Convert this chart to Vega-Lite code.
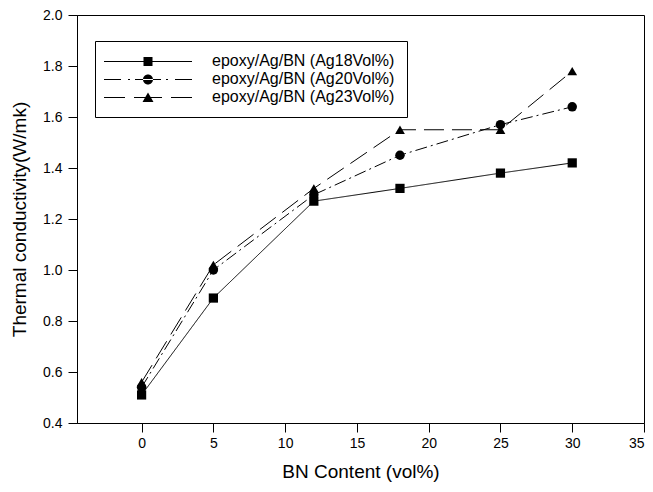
{
  "$schema": "https://vega.github.io/schema/vega-lite/v6.json",
  "width": 567,
  "height": 408,
  "autosize": "none",
  "padding": {"left": 77, "top": 15, "right": 9, "bottom": 69},
  "background": "white",
  "config": {
    "view": {"stroke": "black", "strokeWidth": 1},
    "font": "Liberation Sans",
    "axis": {
      "domainColor": "black",
      "tickColor": "black",
      "labelColor": "black",
      "titleColor": "black",
      "grid": false,
      "tickSize": 9,
      "labelFontSize": 14,
      "titleFontSize": 19,
      "titleFontWeight": "normal",
      "labelFont": "Liberation Sans",
      "titleFont": "Liberation Sans"
    }
  },
  "data": {
    "values": [
      {"series": "epoxy/Ag/BN (Ag18Vol%)", "bn": 0, "k": 0.51},
      {"series": "epoxy/Ag/BN (Ag18Vol%)", "bn": 5, "k": 0.89},
      {"series": "epoxy/Ag/BN (Ag18Vol%)", "bn": 12, "k": 1.27},
      {"series": "epoxy/Ag/BN (Ag18Vol%)", "bn": 18, "k": 1.32},
      {"series": "epoxy/Ag/BN (Ag18Vol%)", "bn": 25, "k": 1.38},
      {"series": "epoxy/Ag/BN (Ag18Vol%)", "bn": 30, "k": 1.42},
      {"series": "epoxy/Ag/BN (Ag20Vol%)", "bn": 0, "k": 0.54},
      {"series": "epoxy/Ag/BN (Ag20Vol%)", "bn": 5, "k": 1.0},
      {"series": "epoxy/Ag/BN (Ag20Vol%)", "bn": 12, "k": 1.295},
      {"series": "epoxy/Ag/BN (Ag20Vol%)", "bn": 18, "k": 1.45},
      {"series": "epoxy/Ag/BN (Ag20Vol%)", "bn": 25, "k": 1.57},
      {"series": "epoxy/Ag/BN (Ag20Vol%)", "bn": 30, "k": 1.64},
      {"series": "epoxy/Ag/BN (Ag23Vol%)", "bn": 0, "k": 0.56},
      {"series": "epoxy/Ag/BN (Ag23Vol%)", "bn": 5, "k": 1.02},
      {"series": "epoxy/Ag/BN (Ag23Vol%)", "bn": 12, "k": 1.32},
      {"series": "epoxy/Ag/BN (Ag23Vol%)", "bn": 18, "k": 1.55},
      {"series": "epoxy/Ag/BN (Ag23Vol%)", "bn": 25, "k": 1.55},
      {"series": "epoxy/Ag/BN (Ag23Vol%)", "bn": 30, "k": 1.78}
    ]
  },
  "encoding": {
    "x": {
      "field": "bn",
      "type": "quantitative",
      "scale": {"domain": [-4.5, 35], "nice": false, "zero": false},
      "axis": {"values": [0, 5, 10, 15, 20, 25, 30, 35], "title": "BN Content (vol%)", "labelPadding": 4, "titlePadding": 12}
    },
    "y": {
      "field": "k",
      "type": "quantitative",
      "scale": {"domain": [0.4, 2.0], "nice": false, "zero": false},
      "axis": {"values": [0.4, 0.6, 0.8, 1.0, 1.2, 1.4, 1.6, 1.8, 2.0], "format": ".1f", "title": "Thermal conductivity(W/mk)", "labelPadding": 6, "titlePadding": 13}
    }
  },
  "layer": [
    {
      "mark": {"type": "line", "color": "black", "strokeWidth": 1},
      "encoding": {
        "detail": {"field": "series", "type": "nominal"},
        "strokeDash": {
          "field": "series",
          "type": "nominal",
          "scale": {
            "domain": ["epoxy/Ag/BN (Ag18Vol%)", "epoxy/Ag/BN (Ag20Vol%)", "epoxy/Ag/BN (Ag23Vol%)"],
            "range": [[1, 0], [12, 4, 2, 4], [20, 8]]
          },
          "legend": null
        }
      }
    },
    {
      "mark": {"type": "point", "filled": true, "color": "black", "opacity": 1},
      "encoding": {
        "shape": {
          "field": "series",
          "type": "nominal",
          "scale": {
            "domain": ["epoxy/Ag/BN (Ag18Vol%)", "epoxy/Ag/BN (Ag20Vol%)", "epoxy/Ag/BN (Ag23Vol%)"],
            "range": ["square", "circle", "triangle-up"]
          },
          "legend": null
        },
        "size": {
          "field": "series",
          "type": "nominal",
          "scale": {
            "domain": ["epoxy/Ag/BN (Ag18Vol%)", "epoxy/Ag/BN (Ag20Vol%)", "epoxy/Ag/BN (Ag23Vol%)"],
            "range": [85, 95, 130]
          },
          "legend": null
        }
      }
    },
    {
      "mark": {"type": "point", "filled": true, "color": "black", "opacity": 0, "size": 4},
      "encoding": {
        "shape": {
          "field": "series",
          "type": "nominal",
          "scale": {
            "domain": ["epoxy/Ag/BN (Ag18Vol%)", "epoxy/Ag/BN (Ag20Vol%)", "epoxy/Ag/BN (Ag23Vol%)"],
            "range": [
              "M-11,0H77V1H-11Z M28.5,-4H37.5V5H28.5Z",
              "M-11,0H6V1H-11Z M13,0H15V1H13Z M20,0H46V1H20Z M51,0H53V1H51Z M60,0H77V1H60Z M28,0.5A5,5 0 1,0 38,0.5A5,5 0 1,0 28,0.5Z",
              "M-11,0H10V1H-11Z M19,0H47V1H19Z M56,0H77V1H56Z M33,-4.5L38.5,5L27.5,5Z"
            ]
          },
          "legend": {
            "orient": "none",
            "legendX": 18,
            "legendY": 26,
            "direction": "vertical",
            "title": null,
            "strokeColor": "black",
            "fillColor": "white",
            "padding": 12,
            "symbolSize": 4,
            "symbolOpacity": 1,
            "symbolFillColor": "black",
            "symbolStrokeWidth": 0,
            "labelFontSize": 16,
            "labelFont": "Liberation Sans",
            "labelColor": "black",
            "labelOffset": 89,
            "labelLimit": 0,
            "rowPadding": 2
          }
        }
      }
    }
  ],
  "resolve": {"scale": {"shape": "independent"}}
}
